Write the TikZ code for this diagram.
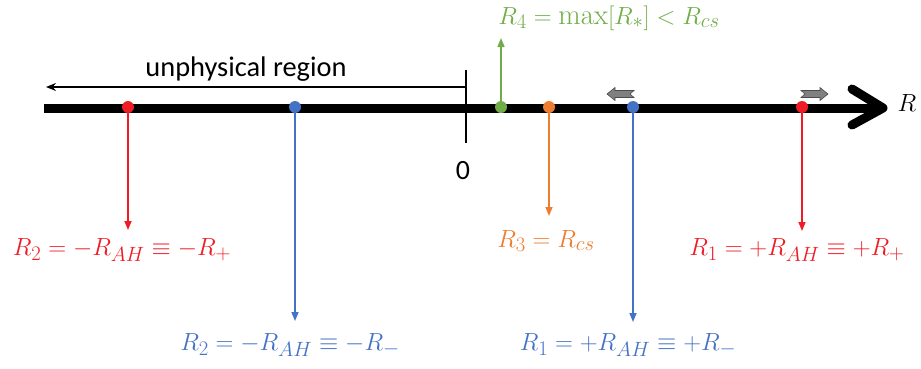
\documentclass[tikz,border=0pt]{standalone}
\usepackage{fontspec}
\newfontfamily\calib{Carlito}
\usetikzlibrary{arrows.meta}
\definecolor{myred}{RGB}{238,28,37}
\definecolor{myblue}{RGB}{68,114,196}
\definecolor{myorange}{RGB}{237,125,49}
\definecolor{mygreen}{RGB}{112,173,71}
\definecolor{mygray}{RGB}{128,128,128}
\begin{document}
\begin{tikzpicture}[x=1bp,y=-1bp,
  dot/.style={circle,fill=#1,inner sep=0pt,minimum size=12bp},
  lbl/.style={text=#1,font=\fontsize{29}{34}\selectfont,inner sep=0pt},
  thin arrow/.style={draw=#1,line width=1.5bp,-{Triangle[length=9bp,width=7bp]}},
  garrow/.style={fill=mygray,draw=black!70,line width=0.6bp}]
\useasboundingbox (0,0) rectangle (921,368);
% main axis
\coordinate (axL) at (44,108);
\coordinate (axR) at (880,108);
\draw[line width=9bp] (axL) -- (axR);
\draw[line width=9bp,line cap=round,line join=round] (852,89) -- (883,108) -- (852,125);
\node[font=\fontsize{29}{34}\selectfont,inner sep=0pt] (Rlab) at (907,103) {$R$};
% zero tick
\coordinate (tickT) at (466,70);
\coordinate (tickB) at (466,143);
\draw[line width=1.5bp] (tickT) -- (tickB);
\node[font=\calib\fontsize{28}{34}\selectfont,inner sep=0pt] (zero) at (463,171) {0};
% unphysical region
\coordinate (upR) at (466,87);
\coordinate (upL) at (46,87);
\draw[line width=1.3bp,-{Stealth[length=10bp,width=8bp]}] (upR) -- (upL);
\node[font=\calib\fontsize{28.5}{34}\selectfont,inner sep=0pt] (uptext) at (246,69) {unphysical region};
% dots
\node[dot=myred] (r2) at (128,107) {};
\node[dot=myblue] (b2) at (295,107) {};
\node[dot=mygreen] (g4) at (501,107) {};
\node[dot=myorange] (o3) at (549,107) {};
\node[dot=myblue] (b1) at (633,107) {};
\node[dot=myred] (r1) at (802,107) {};
% labels
\node[lbl=mygreen] (L4) at (609,18) {$R_4=\max[R_*]<R_{cs}$};
\node[lbl=myorange] (L3) at (546,241) {$R_3=R_{cs}$};
\node[lbl=myred] (L2r) at (122,250) {$R_2=-R_{AH}\equiv-R_+$};
\node[lbl=myred] (L1r) at (797,250) {$R_1=+R_{AH}\equiv+R_+$};
\node[lbl=myblue] (L2b) at (290,345) {$R_2=-R_{AH}\equiv-R_-$};
\node[lbl=myblue] (L1b) at (628,345) {$R_1=+R_{AH}\equiv+R_-$};
% connectors
\coordinate (g4top) at (501,38);
\draw[thin arrow=mygreen] (g4) -- (g4top);
\coordinate (o3bot) at (549,216);
\draw[thin arrow=myorange] (o3) -- (o3bot);
\coordinate (r2bot) at (128,230);
\draw[thin arrow=myred] (r2) -- (r2bot);
\coordinate (r1bot) at (802,231);
\draw[thin arrow=myred] (r1) -- (r1bot);
\coordinate (b2bot) at (295,321);
\draw[thin arrow=myblue] (b2) -- (b2bot);
\coordinate (b1bot) at (633,322);
\draw[thin arrow=myblue] (b1) -- (b1bot);
% gray block arrows
\draw[garrow] (607,94) -- (615,87.5) -- (615,90.5) -- (634,90.5) -- (630,94) -- (634,97.5) -- (615,97.5) -- (615,100.5) -- cycle;
\draw[garrow] (828,94) -- (820,87.5) -- (820,90.5) -- (801,90.5) -- (805,94) -- (801,97.5) -- (820,97.5) -- (820,100.5) -- cycle;
\end{tikzpicture}
\end{document}
